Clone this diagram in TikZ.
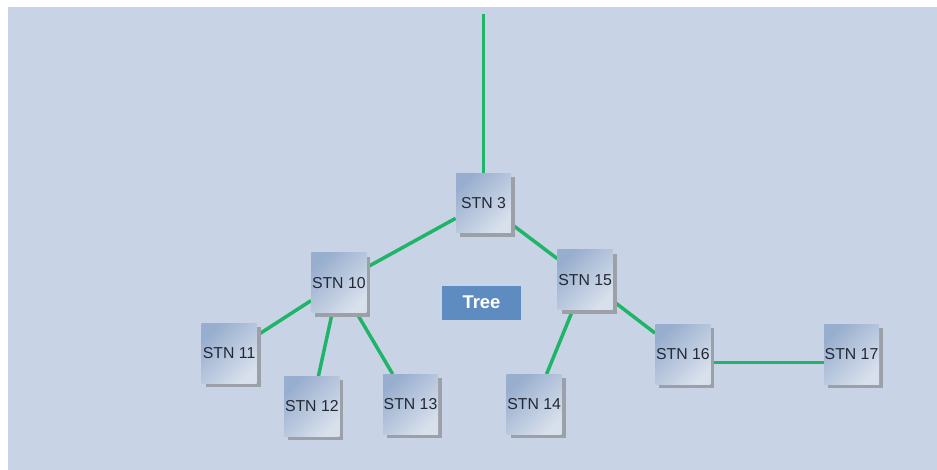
\documentclass[tikz,border=0pt]{standalone}
\usepackage{fontspec}
\setmainfont{Liberation Sans}
\usepackage{tikz}
\usetikzlibrary{positioning, shadows, backgrounds}
\definecolor{backdrop}{RGB}{200,212,230}
\definecolor{linkgreen}{RGB}{32,180,104}
\definecolor{stndark}{RGB}{152,174,206}
\definecolor{stnlight}{RGB}{216,224,236}
\definecolor{stnshadow}{RGB}{156,160,168}
\definecolor{stntext}{RGB}{34,40,52}
\definecolor{tagblue}{RGB}{95,140,192}
\tikzstyle{station} = [rectangle, minimum width=1.1cm, minimum height=1.2cm, inner sep=0pt, text centered, text=stntext, font=\fontsize{9}{10}\selectfont, shading=axis, top color=stndark, bottom color=stnlight, shading angle=45, drop shadow={shadow xshift=0.08cm, shadow yshift=-0.08cm, fill=stnshadow, opacity=1}]
\tikzstyle{treetag} = [rectangle, minimum width=1.58cm, minimum height=0.68cm, inner sep=0pt, fill=tagblue, text=white, font=\fontsize{10.5}{12}\selectfont\bfseries]
\tikzstyle{link} = [line width=0.07cm, draw=linkgreen]

\begin{document}
\begin{tikzpicture}[x=0.02cm, y=-0.02cm]
\useasboundingbox (0,0) rectangle (937,470);
\node (s3) [station] at (483.5,203) {STN 3};
\coordinate [above=3.18cm of s3] (feed);
\node (s10) [station, below left=0.38cm and 1.78cm of s3] {STN 10};
\node (s15) [station, below right=0.32cm and 0.92cm of s3] {STN 15};
\node (tree) [treetag, below=1.04cm of s3, xshift=-0.04cm] {Tree};
\node (s11) [station, below left=0.2cm and 1.08cm of s10] {STN 11};
\node (s12) [station, below=1.26cm of s10, xshift=-0.54cm] {STN 12};
\node (s13) [station, below right=1.22cm and 0.32cm of s10] {STN 13};
\node (s14) [station, below=1.28cm of s15, xshift=-1.02cm] {STN 14};
\node (s16) [station, below right=0.28cm and 0.84cm of s15] {STN 16};
\node (s17) [station, right=2.26cm of s16] {STN 17};

\begin{pgfonlayer}{background}
\fill [backdrop] (8,7) rectangle (937,470);
\draw [link] (feed) -- (s3);
\draw [link] (s3) -- (s10);
\draw [link] (s3) -- (s15);
\draw [link] (s10) -- (s11);
\draw [link] (s10) -- (s12);
\draw [link] (s10) -- (s13);
\draw [link] (s15) -- (s14);
\draw [link] (s15) -- (s16);
\draw [link] ([yshift=-0.16cm]s16.center) -- ([yshift=-0.16cm]s17.center);
\end{pgfonlayer}
\end{tikzpicture}
\end{document}
